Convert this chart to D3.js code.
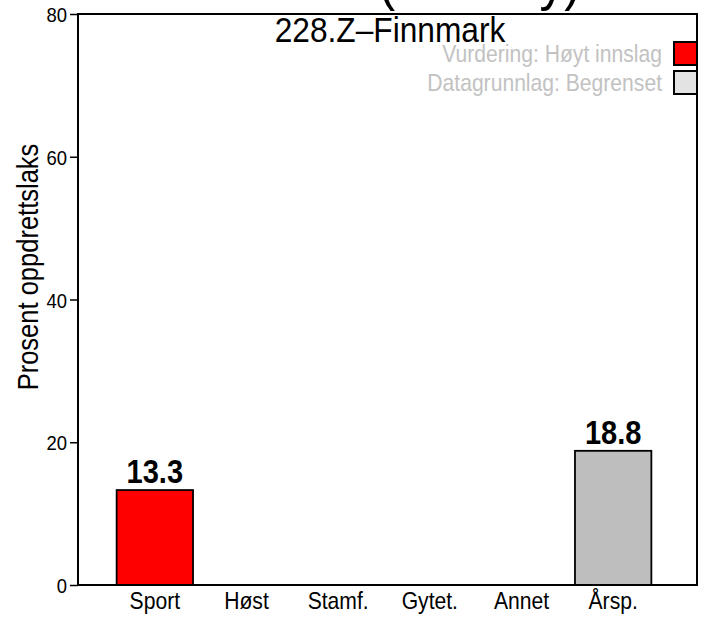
<!DOCTYPE html>
<html>
<head>
<meta charset="utf-8">
<script src="https://cdn.jsdelivr.net/npm/d3@7"></script>
<style>
    body { margin: 0; background: #fff; }
    svg { display: block; font-family: "Liberation Sans", Arial, sans-serif; }
</style>
</head>
<body>
<div id="chart"></div>
<script>
// data
var categories = ["Sport", "Høst", "Stamf.", "Gytet.", "Annet", "Årsp."];
var values = [13.3, null, null, null, null, 18.8];
var barColors = ["#ff0000", "#ff0000", "#ff0000", "#ff0000", "#ff0000", "#bebebe"];
var yTicks = [0, 20, 40, 60, 80];
var legendLabels = ["Vurdering: Høyt innslag", "Datagrunnlag: Begrenset"];
var legendColors = ["#ff0000", "#e3e3e3"];
var mainTitle = "Rømt laks (Norway)";
var subTitle = "228.Z\u2013Finnmark";
var yLabel = "Prosent oppdrettslaks";

var width = 706, height = 618;
var margin = { top: 14, right: 9, bottom: 33, left: 78 };
var plotW = width - margin.left - margin.right,
    plotH = height - margin.top - margin.bottom;
var squeeze = 0.88; // the text in the picture is a bit narrow

// squeeze text horizontally around its anchor point
function narrow(sel) {
    sel.each(function() {
        var t = d3.select(this);
        var tx = +t.attr("x") || 0, ty = +t.attr("y") || 0;
        var pre = t.attr("transform") || "";
        t.attr("x", 0).attr("y", 0)
            .attr("transform", pre + " translate(" + tx + "," + ty + ") scale(" + squeeze + ",1)");
    });
}

var svg = d3.select("#chart").append("svg")
    .attr("width", width)
    .attr("height", height);

svg.append("defs").append("clipPath")
    .attr("id", "clip")
    .append("rect")
    .attr("width", plotW)
    .attr("height", plotH);

var x = d3.scaleBand()
    .domain(categories)
    .range([31, 581])
    .paddingInner(1 / 6)
    .paddingOuter(1 / 12);

var y = d3.scaleLinear()
    .domain([0, 80])
    .range([plotH, 0]);

var color = d3.scaleOrdinal().domain(categories).range(barColors);

var g = svg.append("g")
    .attr("transform", "translate(" + margin.left + "," + margin.top + ")");

// main title, mostly cut off at the top of the picture
svg.append("text")
    .attr("x", 140)
    .attr("y", -1)
    .attr("textLength", 441)
    .attr("lengthAdjust", "spacingAndGlyphs")
    .style("font-size", "56px")
    .text(mainTitle);

var bars = g.selectAll(".bar")
    .data(categories.map(function(c, i) { return { cat: c, value: values[i] }; })
        .filter(function(d) { return d.value != null; }))
    .enter();

bars.append("rect")
    .attr("class", "bar")
    .attr("x", function(d) { return x(d.cat); })
    .attr("y", function(d) { return y(d.value); })
    .attr("width", x.bandwidth())
    .attr("height", function(d) { return y(0) - y(d.value); })
    .attr("fill", function(d) { return color(d.cat); })
    .attr("stroke", "#000")
    .attr("stroke-width", 1.8);

bars.append("text")
    .attr("x", function(d) { return x(d.cat) + x.bandwidth() / 2; })
    .attr("y", function(d) { return y(d.value) - 7; })
    .attr("text-anchor", "middle")
    .style("font-size", "33px")
    .style("font-weight", "bold")
    .text(function(d) { return d.value.toFixed(1); })
    .call(narrow);

// sub title inside the panel
g.append("text")
    .attr("x", 312)
    .attr("y", 28)
    .attr("text-anchor", "middle")
    .style("font-size", "36px")
    .text(subTitle)
    .call(narrow);

// legend in the top right, clipped by the panel edge
var legend = g.append("g").attr("clip-path", "url(#clip)");
legendLabels.forEach(function(lab, i) {
    legend.append("rect")
        .attr("x", plotW - 23)
        .attr("y", 28 + i * 29)
        .attr("width", 26)
        .attr("height", 23)
        .attr("fill", legendColors[i])
        .attr("stroke", "#000")
        .attr("stroke-width", 2);
    legend.append("text")
        .attr("x", plotW - 35)
        .attr("y", 48 + i * 29)
        .attr("text-anchor", "end")
        .attr("fill", "#c2c2c2")
        .style("font-size", "24px")
        .text(lab)
        .call(narrow);
});

// y axis
var yAxis = d3.axisLeft(y).tickValues(yTicks).tickSize(8).tickPadding(3);
var ya = g.append("g").call(yAxis);
ya.select(".domain").remove();
ya.selectAll("line").attr("stroke", "#000").attr("stroke-width", 1.5);
ya.selectAll("text").style("font-size", "21px").attr("dy", "0.36em").attr("fill", "#000").call(narrow);

// x labels without tick marks
var xAxis = d3.axisBottom(x).tickSize(0).tickPadding(7);
var xa = g.append("g").attr("transform", "translate(0," + plotH + ")").call(xAxis);
xa.select(".domain").remove();
xa.selectAll("text").style("font-size", "24px").attr("fill", "#000").call(narrow);

// panel box
g.append("rect")
    .attr("width", plotW)
    .attr("height", plotH)
    .attr("fill", "none")
    .attr("stroke", "#000")
    .attr("stroke-width", 2);

g.append("text")
    .attr("transform", "rotate(-90)")
    .attr("x", -253)
    .attr("y", -40)
    .attr("text-anchor", "middle")
    .style("font-size", "29px")
    .text(yLabel)
    .call(narrow);
</script>
</body>
</html>
